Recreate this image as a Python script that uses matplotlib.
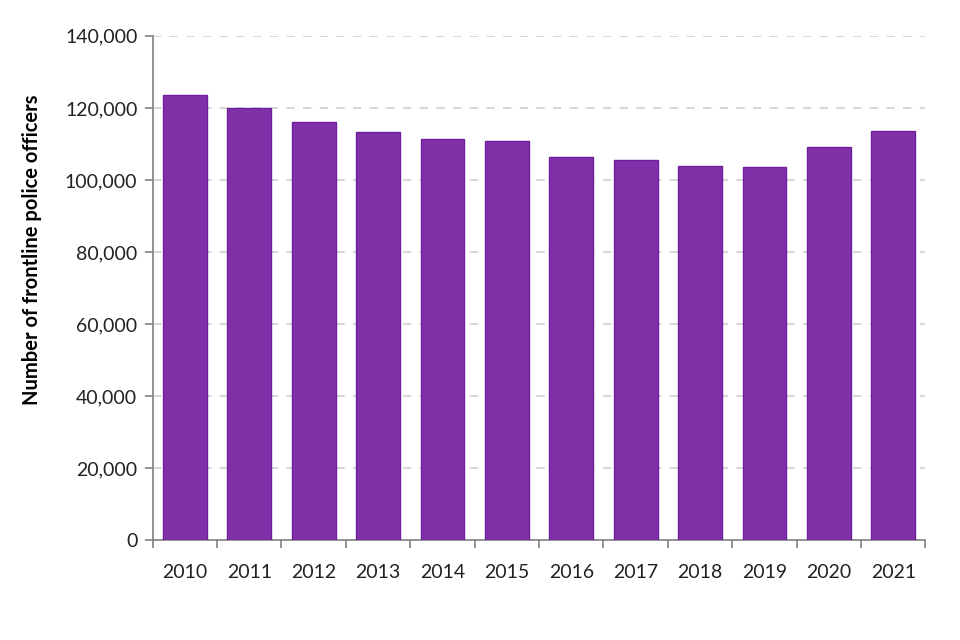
import matplotlib
matplotlib.use("Agg")
from matplotlib import pyplot as plt
from matplotlib.ticker import FuncFormatter, FixedLocator
import numpy as np

plt.rcParams['font.family'] = ['Lato', 'DejaVu Sans']

years = ['2010', '2011', '2012', '2013', '2014', '2015',
         '2016', '2017', '2018', '2019', '2020', '2021']
officers = [123500, 119900, 116100, 113200, 111500, 110800,
            106500, 105600, 103800, 103500, 109100, 113700]

fig = plt.figure(figsize=(9.6, 6.4), dpi=100)
ax = fig.add_axes([0.159, 0.156, 0.805, 0.788])

x = np.arange(len(years))
ax.bar(x, officers, width=0.68, color='#8230A8', edgecolor='#6E1E9C', linewidth=1, zorder=3)

ax.set_xlim(-0.5, len(years) - 0.5)
ax.set_ylim(0, 140000)
ax.set_yticks(np.arange(0, 140001, 20000))
ax.yaxis.set_major_formatter(FuncFormatter(lambda v, p: f"{int(v):,}"))
ax.set_xticks(x)
ax.set_xticklabels(years)
ax.xaxis.set_minor_locator(FixedLocator(np.arange(-0.5, len(years), 1.0)))
ax.tick_params(axis='x', which='major', length=0, pad=17, labelsize=14, colors='#222222')
ax.tick_params(axis='x', which='minor', length=6, color='#808080', width=1.2)
ax.tick_params(axis='y', length=6, color='#808080', width=1.2, labelsize=14, pad=5, colors='#222222')

for v in np.arange(20000, 140001, 20000):
    ax.axhline(v, color='#d0d0d0', linestyle=(0, (5, 5)), linewidth=1.2, zorder=1)

for s in ['top', 'right']:
    ax.spines[s].set_visible(False)
for s in ['left', 'bottom']:
    ax.spines[s].set_color('#808080')
    ax.spines[s].set_linewidth(1.2)

ax.set_ylabel('Number of frontline police officers', fontsize=14.5, fontweight='bold')
ax.yaxis.set_label_coords(-0.143, 0.575)

fig.savefig('out.png', dpi=100)
